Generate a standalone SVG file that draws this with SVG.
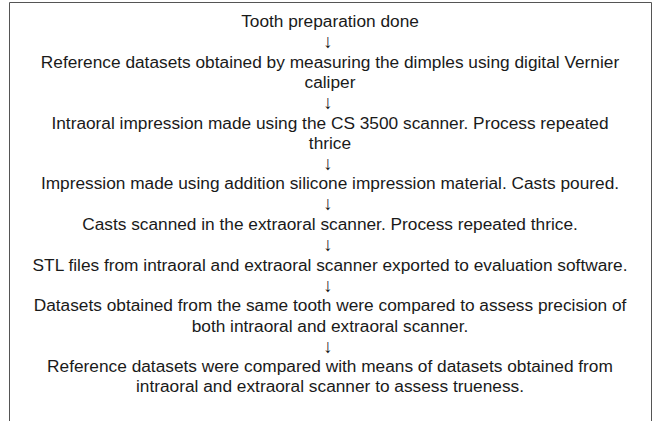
<svg xmlns="http://www.w3.org/2000/svg" width="655" height="421" viewBox="0 0 655 421">
<style>
text{font-family:"Liberation Sans",Arial,sans-serif;font-size:17.3px;fill:#1a1a1a;text-anchor:middle}
.arr{font-size:19px}
</style>
<rect width="655" height="421" fill="#fff"/>
<path d="M9.5 425V2.5H651.5V425" fill="none" stroke="#555" stroke-width="1"/>
<g id="n1"><text x="330" y="27">Tooth preparation done</text></g>
<g id="n2"><text x="330" y="67.6">Reference datasets obtained by measuring the dimples using digital Vernier</text><text x="330" y="87.9">caliper</text></g>
<g id="n3"><text x="330" y="128.5">Intraoral impression made using the CS 3500 scanner. Process repeated</text><text x="330" y="148.8">thrice</text></g>
<g id="n4"><text x="330" y="189.4">Impression made using addition silicone impression material. Casts poured.</text></g>
<g id="n5"><text x="330" y="230">Casts scanned in the extraoral scanner. Process repeated thrice.</text></g>
<g id="n6"><text x="330" y="270.6">STL files from intraoral and extraoral scanner exported to evaluation software.</text></g>
<g id="n7"><text x="330" y="311.2">Datasets obtained from the same tooth were compared to assess precision of</text><text x="330" y="331.5">both intraoral and extraoral scanner.</text></g>
<g id="n8"><text x="330" y="372.1">Reference datasets were compared with means of datasets obtained from</text><text x="330" y="392.4">intraoral and extraoral scanner to assess trueness.</text></g>
<g id="connectors">
<text class="arr" x="328" y="48">↓</text>
<text class="arr" x="328" y="108.9">↓</text>
<text class="arr" x="328" y="169.8">↓</text>
<text class="arr" x="328" y="210.4">↓</text>
<text class="arr" x="328" y="251">↓</text>
<text class="arr" x="328" y="291.6">↓</text>
<text class="arr" x="328" y="352.5">↓</text>
</g>
</svg>
